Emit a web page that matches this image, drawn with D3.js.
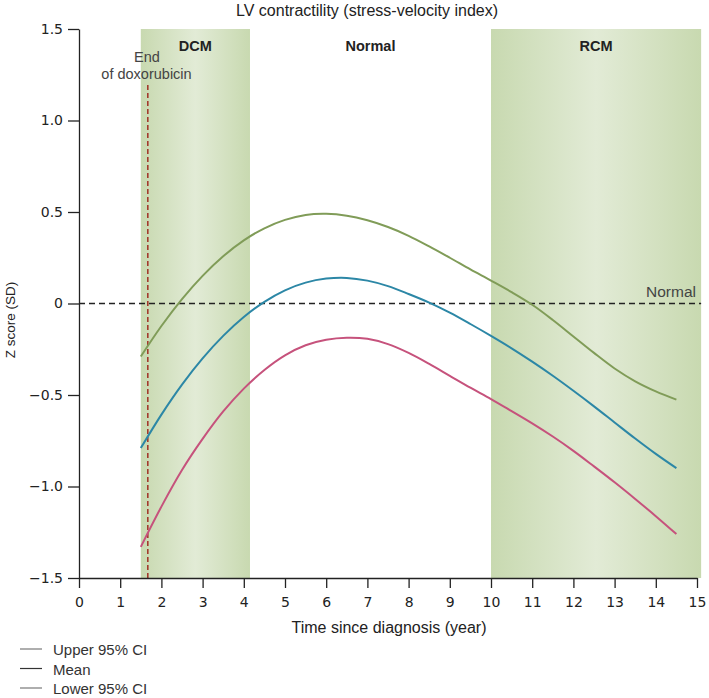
<!DOCTYPE html>
<html><head><meta charset="utf-8">
<script src="https://cdn.jsdelivr.net/npm/d3@7"></script>
<style>body{margin:0;background:#fff}svg{display:block}</style>
</head><body>
<svg id="c" width="709" height="698"></svg>
<script>
const years = [1.5, 2, 2.5, 3, 3.5, 4, 4.5, 5, 5.5, 6, 6.5, 7, 7.5, 8, 8.5, 9, 9.5, 10, 10.5, 11, 11.5, 12, 12.5, 13, 13.5, 14, 14.5];
const upper = [-0.29, -0.123, 0.024, 0.151, 0.258, 0.345, 0.411, 0.457, 0.484, 0.49, 0.48, 0.455, 0.418, 0.37, 0.312, 0.25, 0.186, 0.125, 0.062, -0.007, -0.09, -0.18, -0.27, -0.355, -0.425, -0.48, -0.525];
const mean  = [-0.79, -0.607, -0.443, -0.30, -0.177, -0.074, 0.009, 0.072, 0.114, 0.136, 0.14, 0.125, 0.095, 0.052, 0.005, -0.05, -0.112, -0.177, -0.245, -0.318, -0.395, -0.477, -0.562, -0.65, -0.738, -0.822, -0.90];
const lower = [-1.33, -1.11, -0.91, -0.74, -0.59, -0.465, -0.363, -0.283, -0.228, -0.198, -0.187, -0.193, -0.222, -0.27, -0.33, -0.395, -0.46, -0.522, -0.588, -0.655, -0.727, -0.805, -0.89, -0.977, -1.068, -1.162, -1.26];
const xTicks = [0,1,2,3,4,5,6,7,8,9,10,11,12,13,14,15];
const yTicks = [-1.5,-1.0,-0.5,0,0.5,1.0,1.5];
const yTickLabels = ["\u22121.5","\u22121.0","\u22120.5","0","0.5","1.0","1.5"];
const zones = [{name:"DCM", x0:1.5, x1:4.15, shaded:true},{name:"Normal", x0:4.15, x1:10, shaded:false},{name:"RCM", x0:10, x1:15.1, shaded:true}];
const doxEnd = 1.67;
const seriesNames = ["Upper 95% CI","Mean","Lower 95% CI"];
const seriesColors = ["#809c58","#2c87a6","#c6527c"];

const svg = d3.select("#c");
const x = d3.scaleLinear().domain([0,15]).range([79,697]);
const y = d3.scaleLinear().domain([-1.5,1.5]).range([578,29]);
const FONT = "'Liberation Sans', Arial, sans-serif";

const defs = svg.append("defs");
const g = defs.append("linearGradient").attr("id","zg").attr("x1","0").attr("x2","1").attr("y1","0").attr("y2","0");
g.append("stop").attr("offset","0%").attr("stop-color","#c8d9b0");
g.append("stop").attr("offset","50%").attr("stop-color","#e2ebd6");
g.append("stop").attr("offset","100%").attr("stop-color","#c8d9b0");

svg.selectAll("rect.zone").data(zones.filter(d=>d.shaded)).enter().append("rect")
  .attr("x",d=>x(d.x0)).attr("width",d=>x(d.x1)-x(d.x0))
  .attr("y",y(1.5)).attr("height",y(-1.5)-y(1.5)).attr("fill","url(#zg)");

svg.selectAll("text.zone").data(zones).enter().append("text")
  .attr("x",d=>(x(d.x0)+x(d.x1))/2).attr("y",51).attr("text-anchor","middle")
  .attr("font-family",FONT).attr("font-weight","bold").attr("font-size",14.5).attr("fill","#222").text(d=>d.name);

svg.append("text").attr("x",367).attr("y",16).attr("text-anchor","middle").attr("font-family",FONT)
  .attr("font-size",16).attr("fill","#222").text("LV contractility (stress-velocity index)");

svg.append("line").attr("x1",x(0)).attr("x2",x(15.1)).attr("y1",y(0)).attr("y2",y(0))
  .attr("stroke","#222").attr("stroke-width",1.6).attr("stroke-dasharray","6,4");
svg.append("text").attr("x",696).attr("y",y(0)-7).attr("text-anchor","end").attr("font-family",FONT)
  .attr("font-size",15.5).attr("fill","#444").text("Normal");

svg.append("line").attr("x1",x(doxEnd)).attr("x2",x(doxEnd)).attr("y1",85).attr("y2",y(-1.5))
  .attr("stroke","#a33a2c").attr("stroke-width",1.6).attr("stroke-dasharray","5,3");
svg.append("text").attr("x",147).attr("y",62).attr("text-anchor","middle").attr("font-family",FONT)
  .attr("font-size",14.5).attr("fill","#444").text("End");
svg.append("text").attr("x",146.5).attr("y",79).attr("text-anchor","middle").attr("font-family",FONT)
  .attr("font-size",14.5).attr("fill","#444").text("of doxorubicin");

const line = d3.line().x(d=>x(d[0])).y(d=>y(d[1])).curve(d3.curveCatmullRom.alpha(0.5));
[upper,mean,lower].forEach((s,i)=>{
  svg.append("path").datum(years.map((yr,j)=>[yr,s[j]])).attr("d",line)
    .attr("fill","none").attr("stroke",seriesColors[i]).attr("stroke-width",2);
});

const xa = svg.append("g").attr("transform",`translate(0,${y(-1.5)})`)
  .call(d3.axisBottom(x).tickValues(xTicks).tickFormat(d3.format("d")).tickSize(10).tickPadding(9).tickSizeOuter(0));
const ya = svg.append("g").attr("transform",`translate(${x(0)},0)`)
  .call(d3.axisLeft(y).tickValues(yTicks).tickFormat((d,i)=>yTickLabels[i]).tickSize(11).tickPadding(5).tickSizeOuter(0));
[xa,ya].forEach(a=>{
  a.selectAll("path,line").attr("stroke","#222").attr("stroke-width",1.3);
  a.selectAll("text").attr("font-family","'DejaVu Sans', Verdana, sans-serif").attr("font-size",14).attr("fill","#222");
});

svg.append("text").attr("x",389).attr("y",633).attr("text-anchor","middle").attr("font-family",FONT)
  .attr("font-size",16).attr("fill","#222").text("Time since diagnosis (year)");
svg.append("text").attr("transform",`translate(15,320) rotate(-90)`).attr("text-anchor","middle").attr("font-family",FONT)
  .attr("font-size",13.5).attr("fill","#222").text("Z score (SD)");

const lg = svg.append("g");
seriesNames.forEach((n,i)=>{
  const yy = 649 + i*19.5;
  lg.append("line").attr("x1",20).attr("x2",42).attr("y1",yy).attr("y2",yy)
    .attr("stroke", i===1?"#333":"#777").attr("stroke-width",1.2);
  lg.append("text").attr("x",53).attr("y",yy+6).attr("font-family",FONT).attr("font-size",15)
    .attr("fill","#333").text(n);
});
</script>
</body></html>
